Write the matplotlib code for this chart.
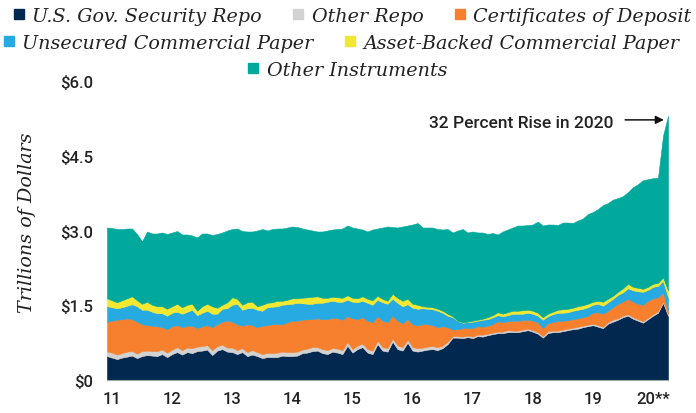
import numpy as np
import matplotlib
matplotlib.use('Agg')
import matplotlib.pyplot as plt
from matplotlib.lines import Line2D

# monthly readings, Jan 2011 .. May 2020, trillions of dollars
# upper edge of each band (Other Repo given as its own amount)
gov_repo_top = [0.48, 0.45, 0.42, 0.45, 0.47, 0.49, 0.44, 0.48, 0.50, 0.49, 0.48, 0.52,
                0.46, 0.52, 0.56, 0.51, 0.56, 0.54, 0.58, 0.59, 0.61, 0.50, 0.59, 0.62,
                0.57, 0.56, 0.52, 0.56, 0.48, 0.51, 0.48, 0.44, 0.46, 0.46, 0.46, 0.49,
                0.48, 0.48, 0.49, 0.54, 0.55, 0.58, 0.59, 0.54, 0.52, 0.57, 0.55, 0.52,
                0.69, 0.55, 0.62, 0.66, 0.55, 0.52, 0.72, 0.59, 0.57, 0.77, 0.62, 0.59,
                0.75, 0.59, 0.57, 0.59, 0.61, 0.62, 0.60, 0.64, 0.72, 0.85, 0.85, 0.84,
                0.86, 0.84, 0.88, 0.87, 0.90, 0.92, 0.94, 0.94, 0.96, 0.96, 0.96, 0.98,
                1.00, 0.97, 0.93, 0.85, 0.94, 0.96, 0.96, 0.98, 1.00, 1.02, 1.03, 1.06,
                1.08, 1.10, 1.07, 1.04, 1.13, 1.17, 1.21, 1.26, 1.29, 1.23, 1.19, 1.15,
                1.22, 1.29, 1.35, 1.55, 1.29]
other_repo = [0.09, 0.10, 0.09, 0.09, 0.10, 0.09, 0.09, 0.10, 0.09, 0.09, 0.10, 0.09,
              0.09, 0.09, 0.10, 0.09, 0.09, 0.10, 0.09, 0.09, 0.09, 0.10, 0.09, 0.09,
              0.08, 0.09, 0.08, 0.08, 0.08, 0.09, 0.08, 0.08, 0.08, 0.08, 0.09, 0.08,
              0.08, 0.08, 0.08, 0.07, 0.08, 0.08, 0.07, 0.08, 0.08, 0.07, 0.08, 0.08,
              0.07, 0.07, 0.07, 0.07, 0.07, 0.07, 0.07, 0.07, 0.07, 0.06, 0.07, 0.07,
              0.06, 0.07, 0.07, 0.06, 0.06, 0.06, 0.06, 0.05, 0.05, 0.03, 0.03, 0.03,
              0.03, 0.03, 0.03, 0.04, 0.03, 0.03, 0.03, 0.03, 0.04, 0.03, 0.03, 0.03,
              0.03, 0.03, 0.03, 0.03, 0.04, 0.03, 0.03, 0.03, 0.03, 0.03, 0.04, 0.03,
              0.03, 0.03, 0.03, 0.03, 0.03, 0.04, 0.03, 0.03, 0.03, 0.03, 0.03, 0.03,
              0.03, 0.03, 0.03, 0.03, 0.03]
cd_top = [1.17, 1.19, 1.21, 1.22, 1.24, 1.22, 1.17, 1.12, 1.10, 1.09, 1.08, 1.06,
          1.02, 1.08, 1.10, 1.06, 1.09, 1.09, 1.04, 1.08, 1.10, 1.06, 1.12, 1.17,
          1.19, 1.17, 1.12, 1.09, 1.12, 1.10, 1.06, 1.09, 1.10, 1.12, 1.12, 1.12,
          1.16, 1.19, 1.19, 1.21, 1.22, 1.22, 1.24, 1.22, 1.22, 1.25, 1.24, 1.21,
          1.28, 1.24, 1.22, 1.26, 1.19, 1.16, 1.28, 1.19, 1.16, 1.29, 1.19, 1.14,
          1.22, 1.12, 1.10, 1.12, 1.12, 1.10, 1.06, 1.08, 1.06, 1.01, 1.02, 1.04,
          1.05, 1.04, 1.08, 1.07, 1.09, 1.12, 1.18, 1.16, 1.18, 1.19, 1.19, 1.20,
          1.21, 1.19, 1.16, 1.04, 1.14, 1.16, 1.19, 1.19, 1.20, 1.22, 1.24, 1.26,
          1.29, 1.35, 1.36, 1.33, 1.39, 1.46, 1.53, 1.58, 1.63, 1.57, 1.53, 1.51,
          1.59, 1.64, 1.66, 1.76, 1.40]
ucp_top = [1.48, 1.46, 1.44, 1.46, 1.49, 1.52, 1.48, 1.41, 1.41, 1.37, 1.34, 1.34,
           1.29, 1.35, 1.37, 1.33, 1.37, 1.41, 1.30, 1.35, 1.39, 1.33, 1.33, 1.43,
           1.44, 1.51, 1.53, 1.41, 1.44, 1.45, 1.41, 1.39, 1.46, 1.47, 1.48, 1.51,
           1.52, 1.53, 1.55, 1.54, 1.53, 1.53, 1.55, 1.55, 1.57, 1.59, 1.57, 1.57,
           1.61, 1.57, 1.56, 1.59, 1.55, 1.51, 1.61, 1.56, 1.53, 1.63, 1.55, 1.48,
           1.52, 1.45, 1.43, 1.44, 1.43, 1.42, 1.39, 1.35, 1.29, 1.26, 1.19, 1.15,
           1.16, 1.17, 1.19, 1.21, 1.22, 1.26, 1.30, 1.28, 1.30, 1.33, 1.33, 1.33,
           1.35, 1.33, 1.29, 1.21, 1.28, 1.32, 1.35, 1.35, 1.36, 1.39, 1.41, 1.43,
           1.46, 1.51, 1.53, 1.49, 1.56, 1.63, 1.71, 1.76, 1.84, 1.80, 1.78, 1.77,
           1.81, 1.87, 1.89, 1.99, 1.66]
abcp_top = [1.64, 1.60, 1.56, 1.60, 1.64, 1.68, 1.60, 1.53, 1.57, 1.51, 1.48, 1.48,
            1.43, 1.48, 1.53, 1.46, 1.51, 1.53, 1.39, 1.48, 1.53, 1.48, 1.45, 1.51,
            1.56, 1.66, 1.63, 1.51, 1.56, 1.57, 1.48, 1.51, 1.55, 1.56, 1.59, 1.59,
            1.61, 1.64, 1.64, 1.65, 1.66, 1.67, 1.68, 1.65, 1.65, 1.67, 1.66, 1.65,
            1.70, 1.65, 1.64, 1.68, 1.63, 1.60, 1.69, 1.63, 1.59, 1.73, 1.65, 1.59,
            1.63, 1.53, 1.51, 1.48, 1.47, 1.46, 1.43, 1.39, 1.33, 1.28, 1.19, 1.16,
            1.17, 1.19, 1.21, 1.23, 1.26, 1.30, 1.36, 1.33, 1.36, 1.39, 1.39, 1.40,
            1.41, 1.39, 1.35, 1.26, 1.33, 1.37, 1.41, 1.42, 1.43, 1.45, 1.48, 1.50,
            1.53, 1.57, 1.59, 1.57, 1.63, 1.69, 1.77, 1.84, 1.93, 1.87, 1.85, 1.83,
            1.87, 1.93, 1.95, 2.06, 1.80]
total = [3.06, 3.05, 3.03, 3.03, 3.04, 3.04, 2.93, 2.78, 2.98, 2.94, 2.94, 2.96,
         2.93, 2.96, 2.99, 2.92, 2.92, 2.90, 2.86, 2.94, 2.94, 2.91, 2.93, 2.96,
         3.00, 3.03, 3.04, 2.99, 2.98, 2.98, 3.00, 3.03, 3.00, 3.03, 3.04, 3.04,
         3.06, 3.08, 3.07, 3.04, 3.02, 3.00, 2.98, 2.98, 3.00, 3.02, 3.03, 3.04,
         3.10, 3.06, 3.04, 3.02, 2.98, 3.02, 3.04, 3.06, 3.08, 3.07, 3.06, 3.08,
         3.10, 3.12, 3.15, 3.06, 3.06, 3.06, 3.03, 3.02, 3.03, 2.96, 3.00, 3.03,
         2.96, 2.98, 2.96, 2.96, 2.93, 2.95, 2.92, 2.98, 3.02, 3.06, 3.10, 3.10,
         3.11, 3.12, 3.18, 3.10, 3.12, 3.12, 3.11, 3.16, 3.16, 3.15, 3.20, 3.24,
         3.33, 3.37, 3.43, 3.51, 3.55, 3.62, 3.65, 3.69, 3.77, 3.87, 3.93, 4.01,
         4.03, 4.05, 4.06, 4.90, 5.30]

labels = ['U.S. Gov. Security Repo', 'Other Repo', 'Certificates of Deposit',
          'Unsecured Commercial Paper', 'Asset-Backed Commercial Paper', 'Other Instruments']
colors = ['#03284f', '#d2d2d2', '#f7802f', '#27a9e1', '#f2e731', '#00a99b']
year_labels = ['11', '12', '13', '14', '15', '16', '17', '18', '19', '20**']
y_ticks = [0, 1.5, 3.0, 4.5, 6.0]
y_tick_labels = ['$0', '$1.5', '$3.0', '$4.5', '$6.0']

t = 2011 + np.arange(len(total)) / 12
navy = np.array(gov_repo_top)
edges = np.vstack([np.zeros_like(navy), navy, navy + np.array(other_repo),
                   cd_top, ucp_top, abcp_top, total])
amounts = np.diff(edges, axis=0)

sans = ['Roboto', 'DejaVu Sans']
serif = {'family': 'DejaVu Serif', 'style': 'italic', 'size': 13.8}

fig = plt.figure(figsize=(6.96, 4.14), dpi=100)
ax = fig.add_axes([0.1537, 0.0797, 0.8061, 0.7222])
polys = ax.stackplot(t, *amounts, colors=colors, lw=0.4)
for p, c in zip(polys, colors):
    p.set_edgecolor(c)

ax.set_xlim(t[0], t[-1])
ax.set_ylim(0, 6)
ax.set_yticks(y_ticks)
ax.set_yticklabels(y_tick_labels, family=sans, fontsize=12, weight='medium', color='#222222')
ax.set_xticks(np.arange(2011, 2021) + 0.08)
ax.set_xticklabels(year_labels, family=sans, fontsize=12, weight='medium', color='#222222')
ax.tick_params(length=0, pad=10)
ax.tick_params(axis='x', pad=8)
for s in ['top', 'right', 'left']:
    ax.spines[s].set_visible(False)
ax.spines['bottom'].set_color('#9aa9a2')
ax.spines['bottom'].set_linewidth(0.8)

ax.set_ylabel('Trillions of Dollars', fontdict=serif, color='#222222')
ax.yaxis.set_label_coords(-0.127, 0.53)

ax.text(2019.42, 5.17, '32 Percent Rise in 2020', family=sans, fontsize=12.5,
        weight='medium', color='#222222', ha='right', va='center')
ax.annotate('', xy=(t[-1] - 0.07, 5.22), xytext=(2019.62, 5.22),
            arrowprops=dict(arrowstyle='-|>', color='#111111', lw=1.1,
                            mutation_scale=12, shrinkA=0, shrinkB=0))

rows = [[0, 1, 2], [3, 4], [5]]
row_pos = [(0.506, 0.959), (0.49, 0.894), (0.499, 0.828)]
for r, (xc, yc) in zip(rows, row_pos):
    handles = [Line2D([], [], ls='none', marker='s', ms=7, mfc=colors[k], mec=colors[k]) for k in r]
    fig.legend(handles, [labels[k] for k in r], loc='center', bbox_to_anchor=(xc, yc),
               ncol=len(r), frameon=False, prop=serif, handlelength=0.6,
               handletextpad=0.4, columnspacing=1.6, borderpad=0, borderaxespad=0,
               labelcolor='#222222')

fig.savefig('out.png', dpi=100)
